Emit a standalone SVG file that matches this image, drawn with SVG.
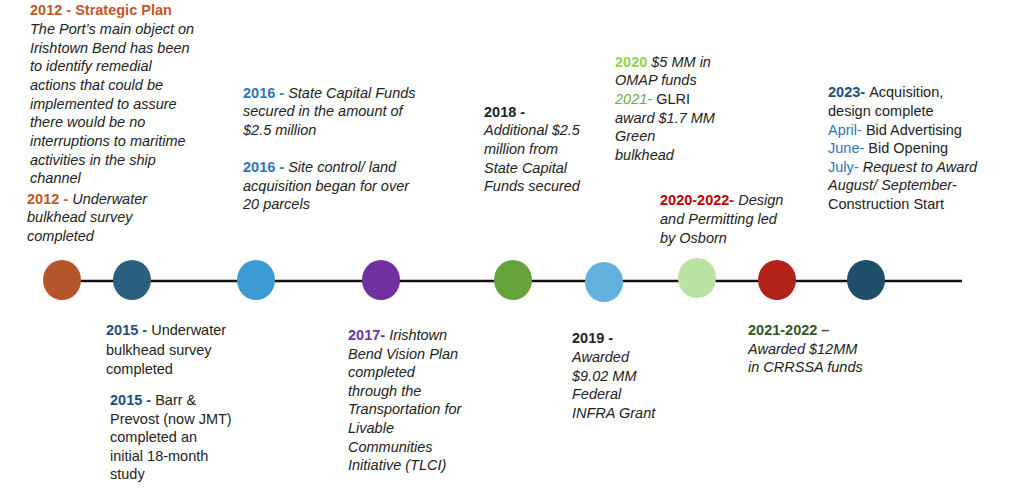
<svg xmlns="http://www.w3.org/2000/svg" width="1015" height="488" viewBox="0 0 1015 488">
<style>
text{font-family:"Liberation Sans",Arial,sans-serif;font-size:14.5px;fill:#222}
.b{font-weight:bold}.i{font-style:italic}
</style>
<rect width="1015" height="488" fill="#fff"/>
<g id="connectors"><line x1="45" y1="281" x2="962" y2="281" stroke="#111" stroke-width="2.5"/></g>
<g id="n1"><ellipse cx="62" cy="280" rx="19" ry="20" fill="#B5562A"/>
<text x="30" y="15"><tspan class="b" fill="#C0572B">2012 - Strategic Plan</tspan></text>
<text class="i" x="30" y="34">The Port’s main object on</text>
<text class="i" x="30" y="53">Irishtown Bend has been</text>
<text class="i" x="30" y="71">to identify remedial</text>
<text class="i" x="30" y="90">actions that could be</text>
<text class="i" x="30" y="109">implemented to assure</text>
<text class="i" x="30" y="127">there would be no</text>
<text class="i" x="30" y="146">interruptions to maritime</text>
<text class="i" x="30" y="165">activities in the ship</text>
<text class="i" x="30" y="183">channel</text>
<text x="27" y="204"><tspan class="b" fill="#C0572B">2012 - </tspan><tspan class="i">Underwater</tspan></text>
<text class="i" x="27" y="222">bulkhead survey</text>
<text class="i" x="27" y="241">completed</text></g>
<g id="n2"><ellipse cx="132" cy="280" rx="19" ry="20" fill="#2A5F80"/>
<text x="106" y="335"><tspan class="b" fill="#1F4E79">2015 - </tspan>Underwater</text>
<text x="106" y="355">bulkhead survey</text>
<text x="106" y="374">completed</text>
<text x="110" y="405"><tspan class="b" fill="#1F4E79">2015 - </tspan>Barr &amp;</text>
<text x="110" y="424">Prevost (now JMT)</text>
<text x="110" y="442">completed an</text>
<text x="110" y="461">initial 18-month</text>
<text x="110" y="479">study</text></g>
<g id="n3"><ellipse cx="256" cy="280" rx="19" ry="20" fill="#3C9BD3"/>
<text x="243" y="98"><tspan class="b" fill="#2E75B6">2016 - </tspan><tspan class="i">State Capital Funds</tspan></text>
<text class="i" x="243" y="116">secured in the amount of</text>
<text class="i" x="243" y="135">$2.5 million</text>
<text x="243" y="172"><tspan class="b" fill="#2E75B6">2016 - </tspan><tspan class="i">Site control/ land</tspan></text>
<text class="i" x="243" y="191">acquisition began for over</text>
<text class="i" x="243" y="209">20 parcels</text></g>
<g id="n4"><ellipse cx="381" cy="280" rx="19" ry="20" fill="#7030A0"/>
<text x="348" y="340"><tspan class="b" fill="#7030A0">2017- </tspan><tspan class="i">Irishtown</tspan></text>
<text class="i" x="348" y="359">Bend Vision Plan</text>
<text class="i" x="348" y="377">completed</text>
<text class="i" x="348" y="396">through the</text>
<text class="i" x="348" y="414">Transportation for</text>
<text class="i" x="348" y="433">Livable</text>
<text class="i" x="348" y="452">Communities</text>
<text class="i" x="348" y="470">Initiative (TLCI)</text></g>
<g id="n5"><ellipse cx="513" cy="280" rx="19" ry="20" fill="#63A33A"/>
<text class="b" x="484" y="117" fill="#548235">2018 -</text>
<text class="i" x="484" y="135">Additional $2.5</text>
<text class="i" x="484" y="154">million from</text>
<text class="i" x="484" y="173">State Capital</text>
<text class="i" x="484" y="191">Funds secured</text></g>
<g id="n6"><ellipse cx="604" cy="282" rx="19" ry="20" fill="#62B0DE"/>
<text class="b" x="572" y="343" fill="#5BB0E0">2019 -</text>
<text class="i" x="572" y="362">Awarded</text>
<text class="i" x="572" y="381">$9.02 MM</text>
<text class="i" x="572" y="399">Federal</text>
<text class="i" x="572" y="418">INFRA Grant</text></g>
<g id="n7"><ellipse cx="697" cy="278" rx="19" ry="20" fill="#B9E2A3"/>
<text x="615" y="67"><tspan class="b" fill="#92D050">2020 </tspan><tspan class="i">$5 MM in</tspan></text>
<text class="i" x="615" y="85">OMAP funds</text>
<text x="615" y="104"><tspan class="i" fill="#70AD47">2021- </tspan>GLRI</text>
<text class="i" x="615" y="123">award $1.7 MM</text>
<text class="i" x="615" y="141">Green</text>
<text class="i" x="615" y="160">bulkhead</text></g>
<g id="n8"><ellipse cx="777" cy="280" rx="19" ry="20" fill="#B2221A"/>
<text x="660" y="205"><tspan class="b" fill="#C00000">2020-2022- </tspan><tspan class="i">Design</tspan></text>
<text class="i" x="660" y="224">and Permitting led</text>
<text class="i" x="660" y="243">by Osborn</text>
<text x="748" y="335"><tspan class="b" fill="#375623">2021-2022 –</tspan></text>
<text class="i" x="748" y="354">Awarded $12MM</text>
<text class="i" x="748" y="372">in CRRSSA funds</text></g>
<g id="n9"><ellipse cx="866" cy="280" rx="19" ry="20" fill="#1F4E6B"/>
<text x="828" y="97"><tspan class="b" fill="#1F4E79">2023- </tspan>Acquisition,</text>
<text x="828" y="116">design complete</text>
<text x="828" y="135"><tspan fill="#2E75B6">April- </tspan>Bid Advertising</text>
<text x="828" y="153"><tspan fill="#2E75B6">June- </tspan>Bid Opening</text>
<text x="828" y="172"><tspan fill="#2E75B6">July- </tspan><tspan class="i">Request to Award</tspan></text>
<text class="i" x="828" y="190" fill="#2E75B6">August/ September-</text>
<text x="828" y="209">Construction Start</text></g>
</svg>
